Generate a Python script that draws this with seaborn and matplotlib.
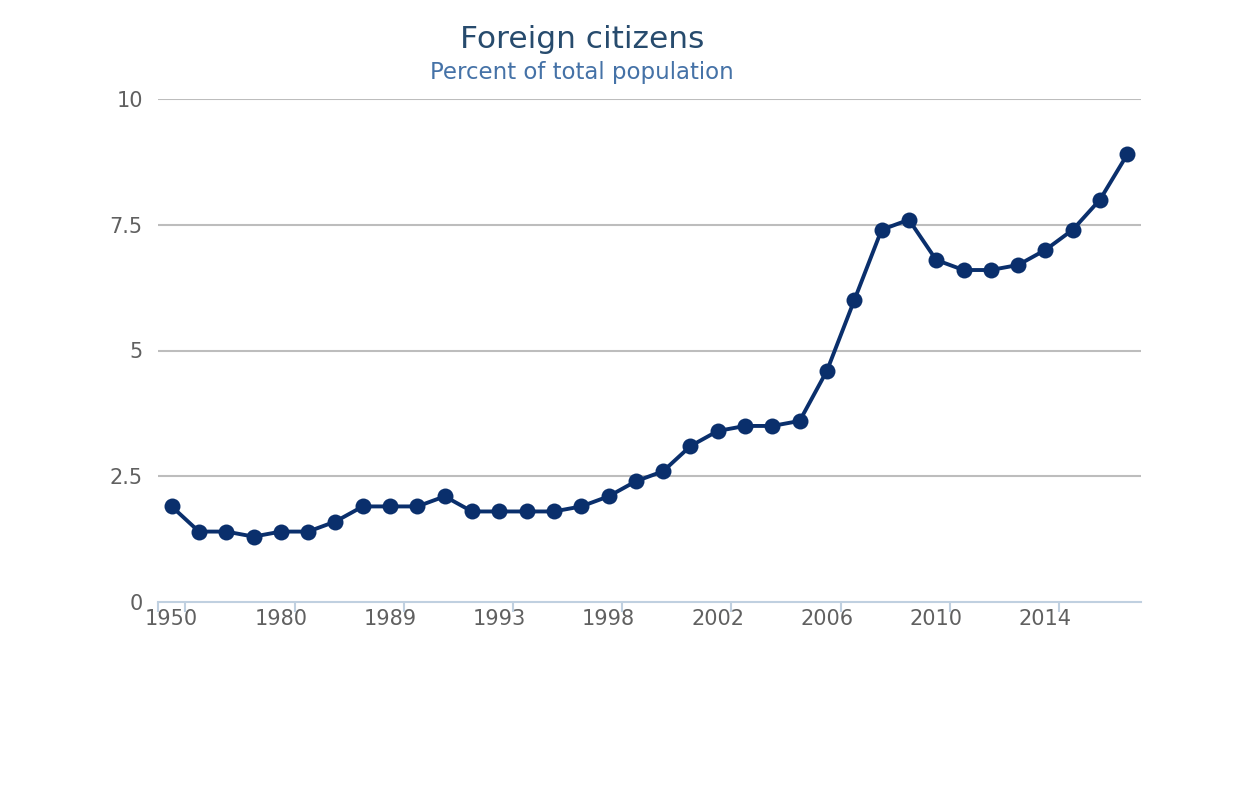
import numpy as np
import pandas as pd
import matplotlib
matplotlib.use('Agg')
import matplotlib.pyplot as plt
import seaborn as sns

# Data
years = ['1950', '1960', '1970', '1975', '1980', '1985', '1987', '1988', '1989',
         '1990', '1991', '1992', '1993', '1994', '1995', '1997', '1998', '1999',
         '2000', '2001', '2002', '2003', '2004', '2005', '2006', '2007', '2008',
         '2009', '2010', '2011', '2012', '2013', '2014', '2015', '2016', '2017']
percent = [1.9, 1.4, 1.4, 1.3, 1.4, 1.4, 1.6, 1.9, 1.9, 1.9, 2.1, 1.8,
           1.8, 1.8, 1.8, 1.9, 2.1, 2.4, 2.6, 3.1, 3.4, 3.5, 3.5, 3.6,
           4.6, 6.0, 7.4, 7.6, 6.8, 6.6, 6.6, 6.7, 7.0, 7.4, 8.0, 8.9]
y_ticks = [0, 2.5, 5, 7.5, 10]
y_tick_labels = ['0', '2.5', '5', '7.5', '10']

df = pd.DataFrame({'year': years, 'percent': percent})
df['pos'] = np.arange(len(df))

sns.set_style('white')
plt.rcParams['font.family'] = ['DejaVu Sans']

fig = plt.figure(figsize=(12.42, 8), dpi=100)
ax = fig.add_axes([158 / 1242, 198 / 800, (1141 - 158) / 1242, (602 - 99) / 800])

# horizontal grid lines
for t in y_ticks[1:]:
    ax.axhline(t, color='#bdbdbd', lw=1.5, zorder=0)

sns.lineplot(data=df, x='pos', y='percent', ax=ax, color='#0a2f6c', lw=2.8,
             marker='o', markersize=11.5, markeredgewidth=0, zorder=3)

ax.set_xlim(-0.5, len(years) - 0.5)
ax.set_ylim(0, 10)
ax.set_yticks(y_ticks)
ax.set_yticklabels(y_tick_labels)
ax.tick_params(axis='y', length=0, pad=11, labelsize=15, labelcolor='#606060')

# category labels every 4th point, ticks on category boundaries
label_pos = list(range(0, len(years), 4))
ax.set_xticks(label_pos)
ax.set_xticklabels([years[i] for i in label_pos])
ax.tick_params(axis='x', length=0, pad=5, labelsize=15, labelcolor='#606060')
minor = [-0.5] + [i + 0.5 for i in label_pos]
ax.set_xticks(minor, minor=True)
ax.tick_params(axis='x', which='minor', bottom=True, length=7, width=1.5,
               color='#c0d0e0')

for s in ['top', 'right', 'left']:
    ax.spines[s].set_visible(False)
ax.spines['bottom'].set_color('#c0d0e0')
ax.spines['bottom'].set_linewidth(1.5)
ax.set_xlabel('')
ax.set_ylabel('')

fig.text(582 / 1242, 1 - 39 / 800, 'Foreign citizens', ha='center', va='center',
         fontsize=22.5, color='#274b6d')
fig.text(582 / 1242, 1 - 72 / 800, 'Percent of total population', ha='center',
         va='center', fontsize=16.5, color='#4572a7')

fig.savefig('out.png', dpi=100)
